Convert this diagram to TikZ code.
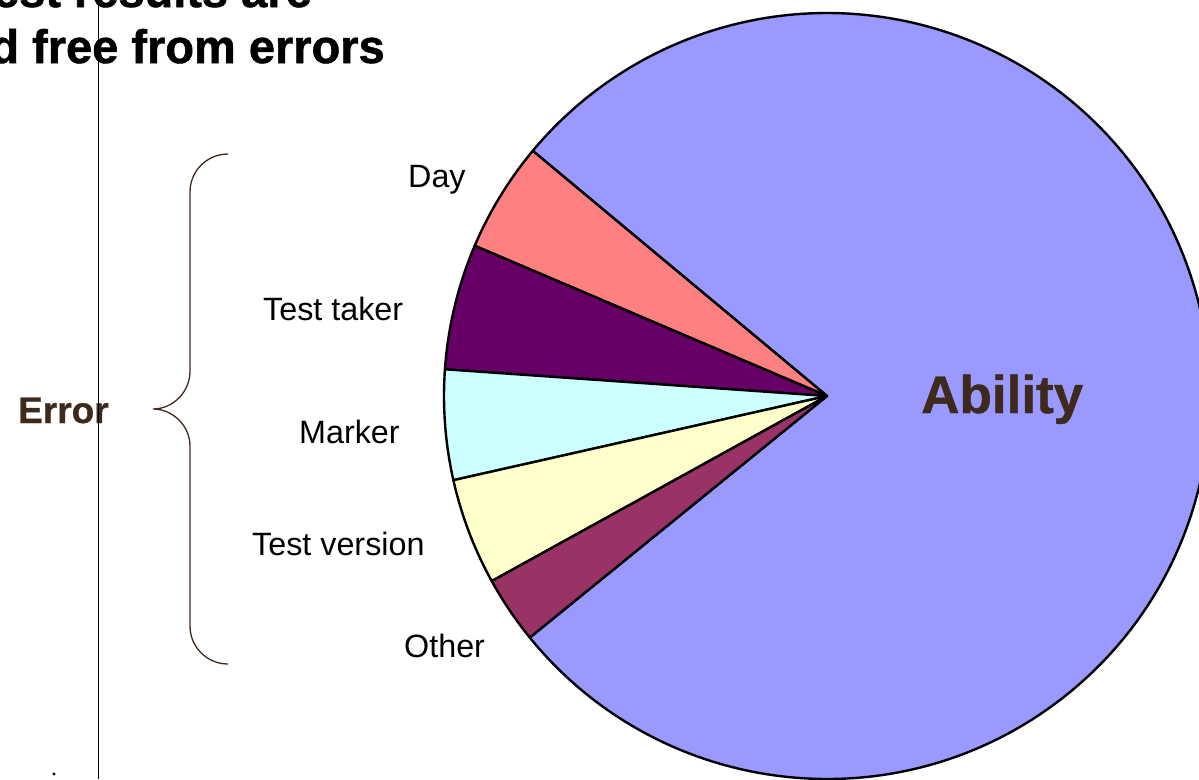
\documentclass[tikz,border=0pt]{standalone}
\usepackage{fontspec}
\setmainfont{Liberation Sans}
\newfontfamily\headfont[FakeBold=1.2]{Liberation Sans Bold}
\newfontfamily\tagfont[FakeBold=0.8]{Liberation Sans Bold}
\definecolor{abilityblue}{HTML}{9999FF}
\definecolor{daypink}{HTML}{FF8080}
\definecolor{takerplum}{HTML}{660066}
\definecolor{markercyan}{HTML}{CCFFFF}
\definecolor{versioncream}{HTML}{FFFFCC}
\definecolor{otherwine}{HTML}{993366}
\definecolor{labelbrown}{HTML}{3D2A1C}
\tikzset{
  slice/.style={draw=black, line width=2.4pt, line join=round},
  sectorlabel/.style={anchor=base west, inner sep=0pt, font=\fontsize{32.3}{38}\selectfont},
  heading/.style={inner sep=0pt, font=\headfont\fontsize{47}{52}\selectfont},
  tag/.style={anchor=base west, inner sep=0pt, text=labelbrown},
  bracecurve/.style={draw=labelbrown, line width=1.3pt},
}
\begin{document}
\begin{tikzpicture}[x=1pt, y=-1pt]
\useasboundingbox (0,0) rectangle (1199,779);
\clip (0,0) rectangle (1199,779);
\fill[white] (0,0) rectangle (1199,779);

% pie centre
\coordinate (c) at (827,396);

% slices (angles negated because the y axis points down)
\filldraw[slice, fill=abilityblue] (c) -- ++(-219.1:383) arc[start angle=-219.1, end angle=-500.2, radius=383] -- cycle;
\filldraw[slice, fill=daypink] (c) -- ++(-140.2:383) arc[start angle=-140.2, end angle=-156.9, radius=383] -- cycle;
\filldraw[slice, fill=takerplum] (c) -- ++(-156.9:383) arc[start angle=-156.9, end angle=-176.0, radius=383] -- cycle;
\filldraw[slice, fill=markercyan] (c) -- ++(-176.0:383) arc[start angle=-176.0, end angle=-192.7, radius=383] -- cycle;
\filldraw[slice, fill=versioncream] (c) -- ++(-192.7:383) arc[start angle=-192.7, end angle=-208.9, radius=383] -- cycle;
\filldraw[slice, fill=otherwine] (c) -- ++(-208.9:383) arc[start angle=-208.9, end angle=-219.1, radius=383] -- cycle;

% heading lines
\node[heading, anchor=base east] (head1) at (312,7) {est results are};
\node[heading, anchor=base east] (head2) at (385,63) {d free from errors};

% slice labels
\node[sectorlabel] (day) at (408,187) {Day};
\node[sectorlabel] (taker) at (263,320) {Test taker};
\node[sectorlabel] (marker) at (299,443) {Marker};
\node[sectorlabel] (version) at (252,555) {Test version};
\node[sectorlabel] (other) at (404,657) {Other};

\node[tag, font=\tagfont\fontsize{53}{60}\selectfont] (ability) at (921,413) {Ability};
\node[tag, font=\tagfont\fontsize{37}{42}\selectfont] (error) at (18,423) {Error};

% curly brace grouping the error sources
\coordinate (btop) at (228,154);
\coordinate (btip) at (153,409);
\coordinate (bbot) at (228,664);
\draw[bracecurve] (btop) .. controls (207,154) and (190,171) .. (190,192)
  -- (190,371) .. controls (190,392) and (173,409) .. (btip)
  .. controls (173,409) and (190,426) .. (190,446)
  -- (190,626) .. controls (190,647) and (207,664) .. (bbot);

% thin vertical rule and stray dot
\coordinate (rtop) at (98,0);
\coordinate (rbot) at (98,779);
\draw[black, line width=1pt] (rtop) -- (rbot);
\fill[black] (54,774) circle[radius=1.6];
\end{tikzpicture}
\end{document}
